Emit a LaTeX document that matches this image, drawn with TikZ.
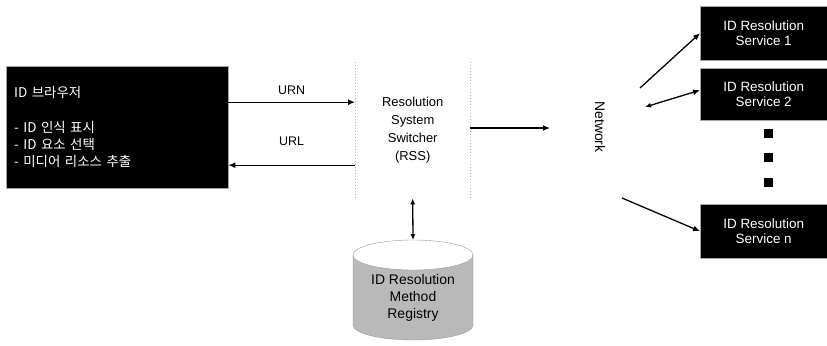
\documentclass[tikz,border=0pt]{standalone}
\usepackage{fontspec}
\setmainfont{Liberation Sans}
\newfontfamily\krfont{Noto Sans CJK KR}
\usetikzlibrary{shapes.geometric,arrows.meta}
\begin{document}
\begin{tikzpicture}[x=1bp,y=-1bp,
  blackbox/.style={draw=gray!70,fill=black,text=white,inner sep=0pt,align=center,font=\fontsize{13.5}{16}\selectfont},
  conn/.style={draw=black,line width=1.3pt,-{Latex[length=7pt,width=6pt]}},
  edge/.style={draw=gray!60,dotted,line width=1pt},
  lbl/.style={font=\fontsize{12.5}{14}\selectfont}]
\useasboundingbox (0,0) rectangle (827,345);
% left box
\node[blackbox,minimum width=222bp,minimum height=122bp,anchor=north west,align=left,text width=206bp,font=\krfont\fontsize{13.5}{17}\selectfont] (idb) at (6,66) {ID 브라우저\\[18bp]- ID 인식 표시\\- ID 요소 선택\\- 미디어 리소스 추출};
% RSS
\node[minimum width=115bp,minimum height=136bp,anchor=north west,align=center,font=\fontsize{13}{18}\selectfont] (rss) at (355,62) {Resolution\\System\\Switcher\\(RSS)};
\draw[edge] (rss.north west) -- (rss.south west);
\draw[edge] (rss.north east) -- (rss.south east);
% Network
\node[rotate=-90,font=\fontsize{14}{16}\selectfont] (net) at (600,127) {Network};
% services
\node[blackbox,minimum width=127bp,minimum height=54bp,anchor=north west] (s1) at (700,6) {ID Resolution\\Service 1};
\node[blackbox,minimum width=127bp,minimum height=52bp,anchor=north west] (s2) at (700,68) {ID Resolution\\Service 2};
\node[blackbox,minimum width=127bp,minimum height=54bp,anchor=north west] (sn) at (700,204) {ID Resolution\\Service n};
\foreach \yy/\nm in {133/d1,157/d2,182/d3}{\node[fill=black,minimum size=9bp,inner sep=0pt] (\nm) at (768,\yy) {};}
% cylinder
\fill[gray!55,draw=gray!80] (353,255) -- (353,325) arc[start angle=180,end angle=360,x radius=60,y radius=-15] -- (473,255) -- cycle;
\filldraw[fill=white,draw=gray!80] (413,255) ellipse[x radius=60,y radius=15];
\coordinate (regtop) at (413,240);
\node[align=center,text=black,font=\fontsize{14}{17}\selectfont] (reg) at (413,298) {ID Resolution\\Method\\Registry};
% connectors
\coordinate (urnS) at ([yshift=25bp]idb.east);
\draw[conn] (urnS) -- (urnS -| rss.west) node[lbl,midway,above=4bp] {URN};
\coordinate (urlS) at ([yshift=-38bp]idb.east);
\draw[conn] (urlS -| rss.west) -- (urlS) node[lbl,midway,above=16bp] {URL};
\coordinate (netL) at (550,128);
\draw[conn] (rss.east |- netL) -- (netL);
\draw[conn,{Latex[length=6pt,width=5pt]}-{Latex[length=6pt,width=5pt]}] (rss.south) -- (regtop);
\coordinate (n1) at (640,88);
\coordinate (n2) at (645,107);
\coordinate (nn) at (622,198);
\draw[conn] (n1) -- (s1.west);
\draw[conn,{Latex[length=6pt,width=5pt]}-{Latex[length=7pt,width=6pt]}] (n2) -- ([yshift=4bp]s2.west);
\draw[conn] (nn) -- (sn.west);
\end{tikzpicture}
\end{document}
